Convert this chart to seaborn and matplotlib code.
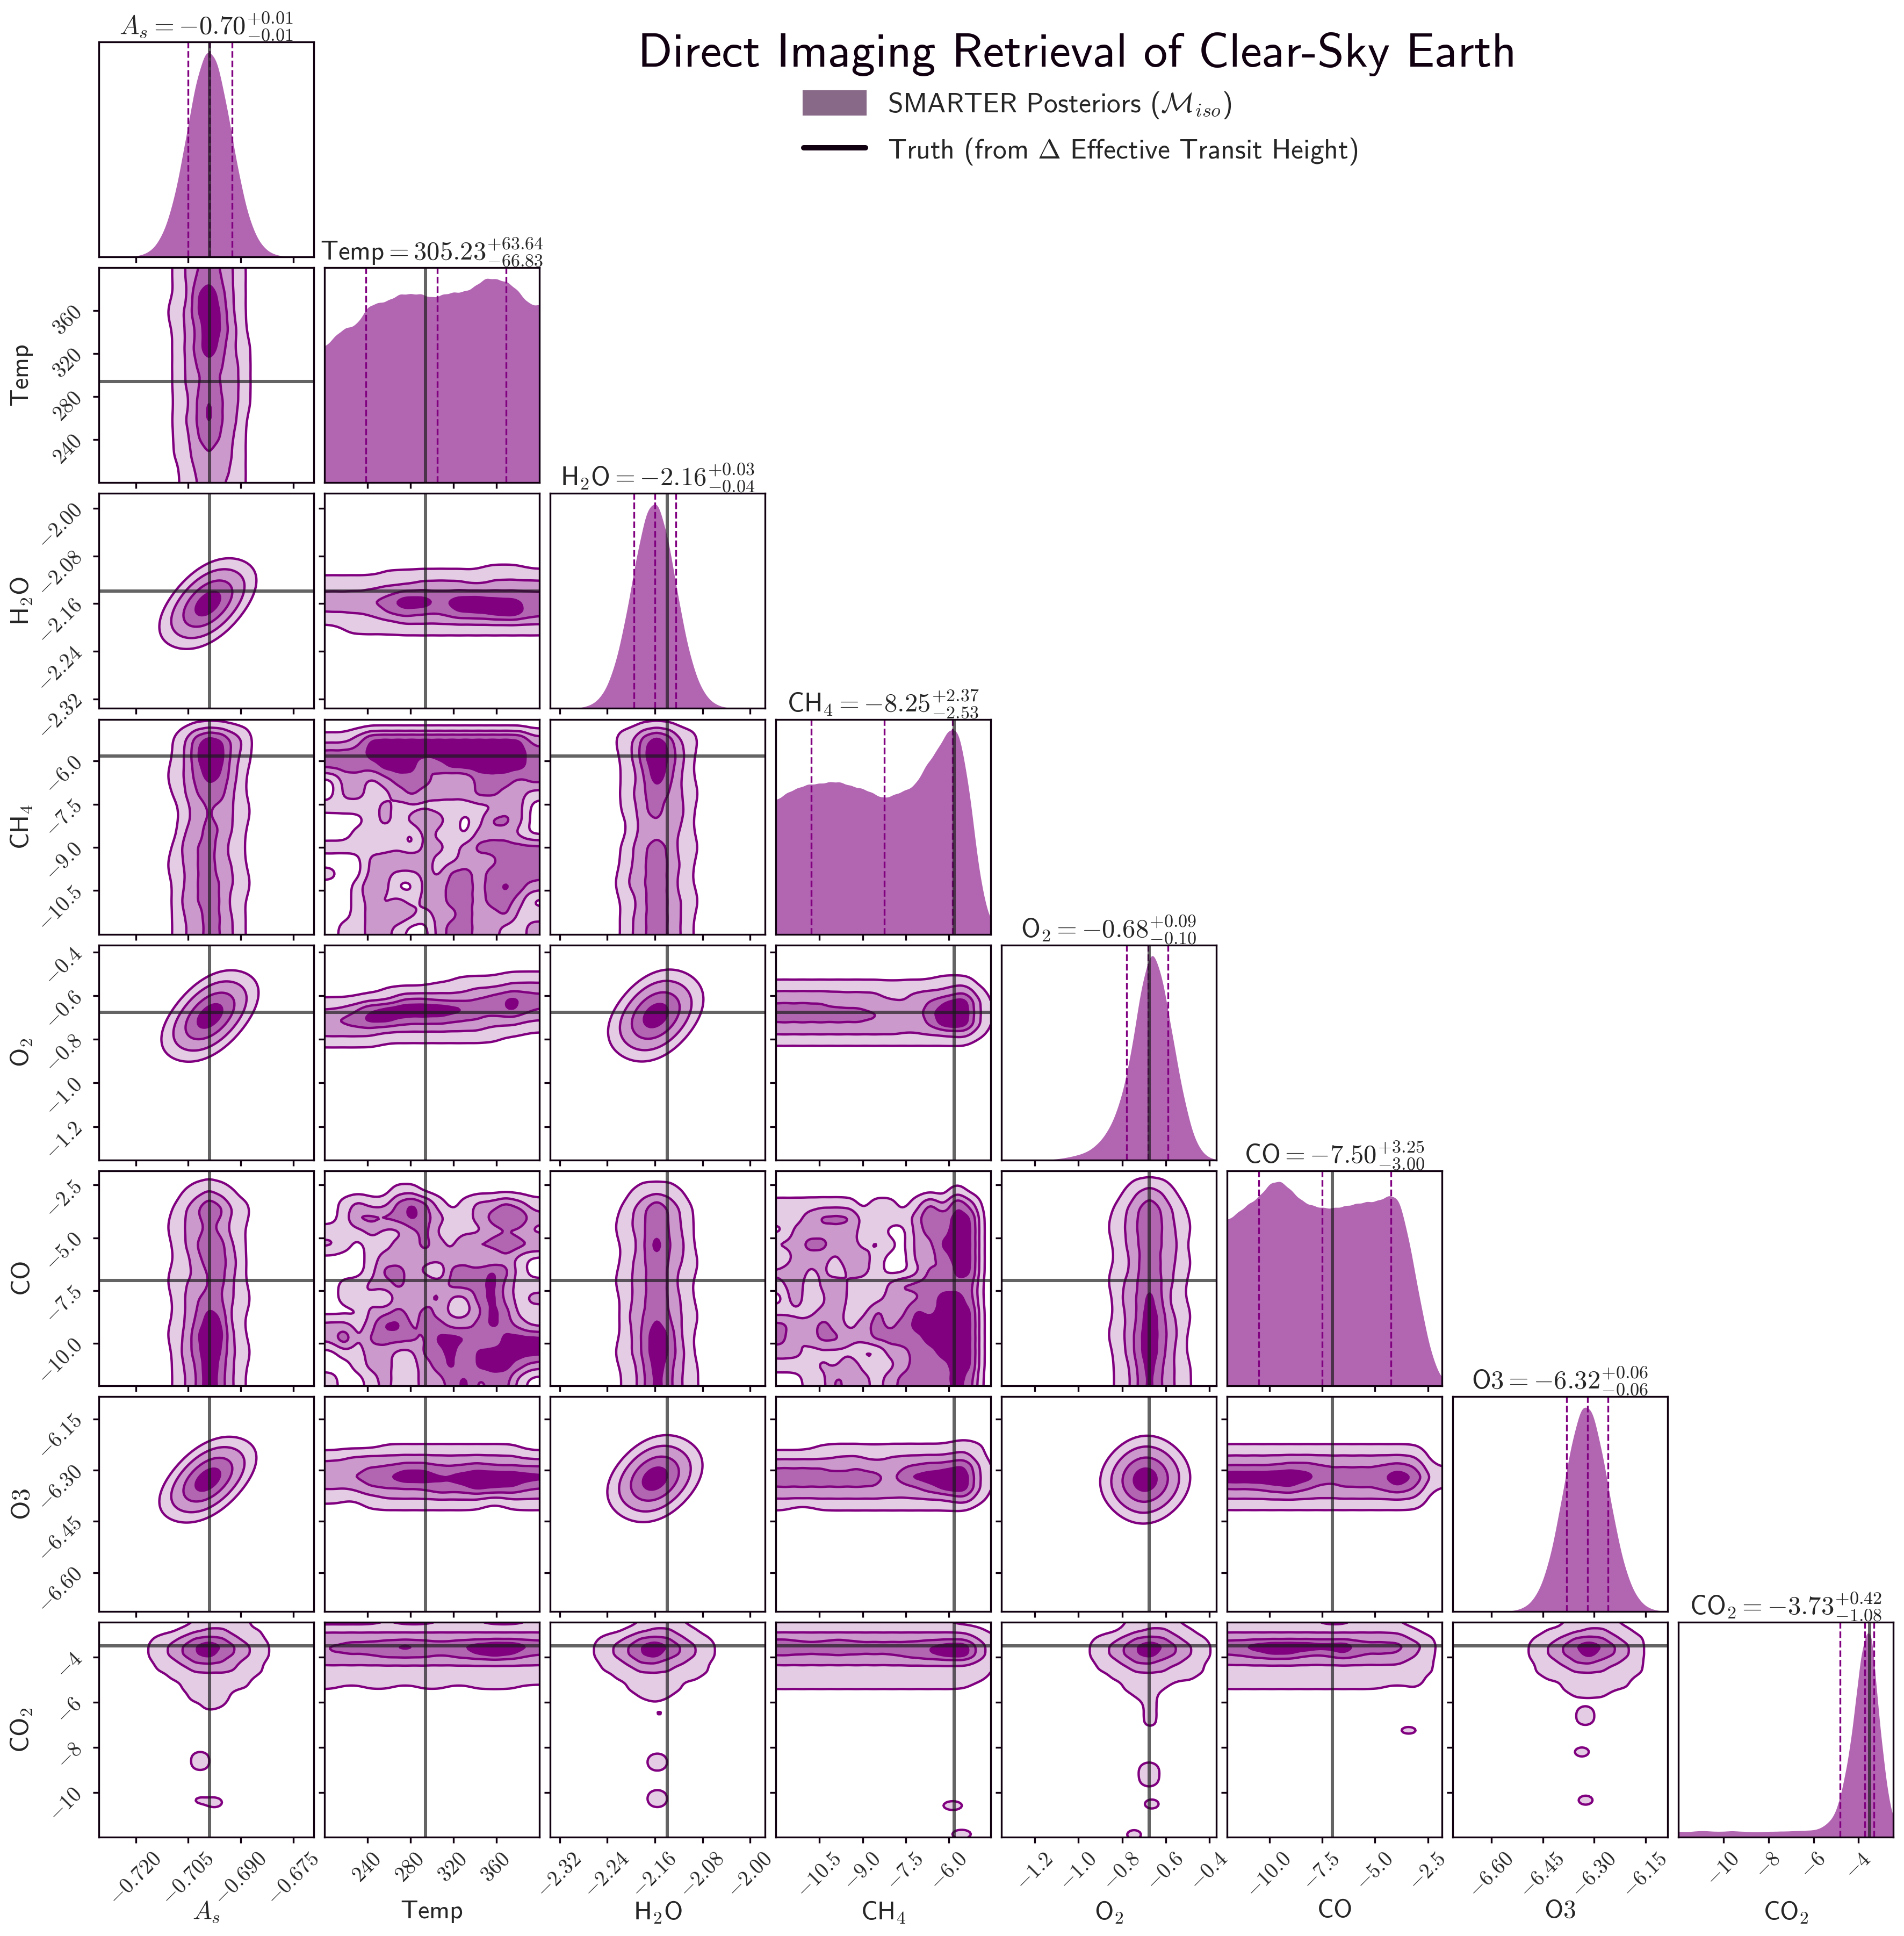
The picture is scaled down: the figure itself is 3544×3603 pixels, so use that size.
import numpy as np
import seaborn as sns
import matplotlib
matplotlib.use("Agg")
import matplotlib.pyplot as plt
from matplotlib.lines import Line2D
from matplotlib.patches import Patch

sns.set_theme(style="ticks")
plt.rcParams["font.family"] = ["cmss10", "DejaVu Sans"]
plt.rcParams["mathtext.fontset"] = "cm"
plt.rcParams["axes.unicode_minus"] = False
plt.rcParams["axes.formatter.use_mathtext"] = True

# parameters
names = [r"$A_s$", r"$\mathsf{Temp}$", r"$\mathsf{H_2O}$", r"$\mathsf{CH}_4$", r"$\mathsf{O}_2$",
         r"$\mathsf{CO}$", r"$\mathsf{O3}$", r"$\mathsf{CO}_2$"]
titles = [r"$A_s=-0.70^{+0.01}_{-0.01}$", r"$\mathsf{Temp}=305.23^{+63.64}_{-66.83}$",
          r"$\mathsf{H}_2\mathsf{O}=-2.16^{+0.03}_{-0.04}$", r"$\mathsf{CH}_4=-8.25^{+2.37}_{-2.53}$",
          r"$\mathsf{O}_2=-0.68^{+0.09}_{-0.10}$", r"$\mathsf{CO}=-7.50^{+3.25}_{-3.00}$",
          r"$\mathsf{O3}=-6.32^{+0.06}_{-0.06}$", r"$\mathsf{CO}_2=-3.73^{+0.42}_{-1.08}$"]
limits = [(-0.7305, -0.6692), (200, 400), (-2.336, -1.975), (-12.02, -4.55),
          (-1.353, -0.368), (-12.0, -1.83), (-6.714, -6.085), (-12.0, -2.46)]
# O3 has no truth line in the reference
truths = [-0.699, 294, -2.139, -5.82, -0.677, -7.02, None, -3.5]
quantiles = [(-0.705, -0.699, -0.6925), (238.4, 305.23, 368.87), (-2.195, -2.16, -2.125), (-10.78, -8.25, -5.88),
             (-0.78, -0.68, -0.59), (-10.5, -7.5, -4.25), (-6.38, -6.32, -6.26), (-4.81, -3.73, -3.31)]
ticks = [[-0.72, -0.705, -0.69, -0.675], [240, 280, 320, 360], [-2.32, -2.24, -2.16, -2.08, -2.0],
         [-10.5, -9, -7.5, -6], [-1.2, -1.0, -0.8, -0.6, -0.4], [-10, -7.5, -5, -2.5],
         [-6.6, -6.45, -6.3, -6.15], [-10, -8, -6, -4]]
tick_labels = [["-0.720", "-0.705", "-0.690", "-0.675"], ["240", "280", "320", "360"],
               ["-2.32", "-2.24", "-2.16", "-2.08", "-2.00"], ["-10.5", "-9.0", "-7.5", "-6.0"],
               ["-1.2", "-1.0", "-0.8", "-0.6", "-0.4"], ["-10.0", "-7.5", "-5.0", "-2.5"],
               ["-6.60", "-6.45", "-6.30", "-6.15"], ["-10", "-8", "-6", "-4"]]

# marginal heights, percent of panel height, evenly spaced across each panel
as_hist = [0, 0, 0, 0.1, 0.7, 3, 10, 25, 50, 78, 94, 89, 65, 37, 16, 5.6, 1.5, 0.3, 0, 0, 0]
temp_hist = [62, 68, 72, 72, 82, 83, 84, 87.5, 87, 87.5, 85, 87, 88, 88, 90.5, 95, 94, 93, 89, 82, 82]
h2o_hist = [0, 0, 0, 0.4, 1.8, 6.4, 18, 39, 67, 90, 94, 76, 47, 23, 9, 2.7, 0.6, 0.1, 0, 0, 0]
ch4_hist = [61, 65, 67, 69, 69, 70, 70, 68, 67, 65, 62, 64, 66, 68, 78, 84, 94, 96, 68, 24, 4]
o2_hist = [0, 0, 0, 0, 0.1, 0.3, 1, 2, 3.5, 7, 13, 24, 44, 76, 95, 80, 52, 26, 8, 1.5, 0]
co_hist = [76, 80, 84, 87, 94, 95, 90, 85, 83, 82, 82, 83, 84, 85, 85, 88, 88, 66, 38, 14, 2]
o3_hist = [0, 0, 0, 0, 0, 0.1, 0.6, 2.5, 8.4, 22, 46, 74, 93, 91, 69, 41, 19, 7, 1.9, 0.4, 0.1]
co2_hist = [2.7, 2.6, 2.6, 2.8, 3, 3, 2.8, 2.7, 2.7, 2.8, 3, 2.8, 2.7, 2.6, 2.5, 2.5, 2.6, 2.7, 2.7, 2.8, 2.8,
            2.9, 3, 3.1, 3.2, 3.3, 3.8, 5, 7, 10, 17, 28, 42, 62, 84, 94, 95, 64, 40, 20, 8]

# round blobs: a few points
h2o_as_x = [-0.6994, -0.69363, -0.70517, -0.6994, -0.6994]
h2o_as_y = [-2.160, -2.1438, -2.1762, -2.1319, -2.1881]
o2_as_x = [-0.6988, -0.69303, -0.70457, -0.6988, -0.6988]
o2_as_y = [-0.693, -0.6487, -0.7373, -0.6157, -0.7703]
o3_as_x = [-0.6994, -0.69363, -0.70517, -0.6994, -0.6994]
o3_as_y = [-6.328, -6.3013, -6.3547, -6.2817, -6.3743]
o2_h2o_x = [-2.1586, -2.1253, -2.1919, -2.1586, -2.1586]
o2_h2o_y = [-0.691, -0.66, -0.722, -0.608, -0.774]
o3_h2o_x = [-2.160, -2.1267, -2.1933, -2.160, -2.160]
o3_h2o_y = [-6.325, -6.3089, -6.3411, -6.274, -6.376]
o3_o2_x = [-0.694, -0.6081, -0.7799, -0.694, -0.694]
o3_o2_y = [-6.328, -6.3253, -6.3307, -6.2745, -6.3815]

# everything else: density painted on a coarse lattice (contours sit at 1, 3, 5, 7)
as_nodes = [-0.7126, -0.6856]
h2o_nodes = [-2.2365, -2.0775]
o2_nodes = [-0.8905, -0.4575]
temp_nodes = [208.35, 391.65]
ch4_nodes = [-11.708, -4.236]
co_nodes = [-11.576, -1.416]
co_short_nodes = [-11.576, -2.264]
temp_rows = [391.65, 208.35]
ch4_rows = [-4.6434, -11.486]
co_rows = [-1.957, -11.261]
co2_rows = [-2.3646, -5.799]
drop_rows = [-2.3646, -6.5622]
o3_rows = [-6.1949, -6.4461]

temp_as = [[0, 1, 3, 5, 6, 5, 3, 1, 0], [0, 1, 2, 7, 9, 6, 3, 1, 0], [0, 2, 3, 7, 9, 7, 3, 1, 0],
           [0, 1, 3, 5, 9, 7, 4, 1, 0], [0, 1, 3, 6, 9, 6, 3, 2, 0], [0, 1, 3, 5, 6, 5, 4, 2, 0],
           [0, 1, 3, 5, 5, 5, 4, 2, 0], [0, 1, 2, 5, 8, 5, 4, 2, 0], [0, 1, 3, 5, 8, 5, 4, 1, 0],
           [0, 1, 2, 5, 6, 5, 3, 1, 0], [0, 1, 2, 4, 5, 4, 3, 1, 0], [0, 0, 2, 3, 4, 3, 3, 1, 0]]
ch4_as = [[0, 0, 0, 0, 0, 0, 0, 0, 0], [0, 1, 3, 7, 9, 8, 5, 3, 0], [0, 1, 3, 7, 9, 8, 4, 2, 0],
          [0, 2, 3, 6, 8, 7, 4, 1, 0], [0, 1, 3, 5, 6, 6, 3, 1, 0], [0, 0, 2, 4, 5, 4, 3, 2, 0],
          [0, 0, 3, 4, 6, 5, 3, 1, 0], [0, 1, 4, 5, 6, 4, 2, 1, 0], [0, 2, 3, 5, 6, 4, 3, 1, 0],
          [0, 1, 3, 5, 6, 5, 3, 2, 0], [0, 1, 4, 5, 6, 5, 2, 1, 0], [0, 1, 3, 4, 6, 5, 3, 1, 0]]
ch4_h2o = [[0, 0, 0, 0, 0, 0, 0, 0, 0], [0, 2, 3, 7, 9, 7, 3, 2, 0], [0, 1, 3, 7, 9, 7, 4, 1, 0],
           [0, 1, 2, 5, 9, 6, 3, 1, 0], [0, 1, 3, 5, 6, 5, 3, 2, 0], [0, 1, 2, 5, 6, 4, 4, 1, 0],
           [0, 0, 2, 4, 4, 4, 3, 1, 0], [0, 1, 3, 5, 6, 5, 2, 2, 0], [0, 1, 3, 5, 6, 5, 3, 1, 0],
           [0, 2, 4, 5, 6, 5, 2, 1, 0], [0, 1, 2, 5, 6, 5, 3, 2, 0], [0, 1, 3, 5, 6, 5, 3, 1, 0]]
co_as = [[0, 0, 0, 0, 0, 0, 0, 0, 0], [0, 0, 1, 2, 3, 2, 1, 0, 0], [0, 1, 3, 5, 8, 6, 3, 2, 0],
         [0, 2, 3, 4, 5, 4, 2, 1, 0], [0, 1, 3, 5, 8, 6, 3, 1, 0], [0, 1, 2, 4, 6, 6, 4, 1, 0],
         [0, 2, 3, 3, 5, 6, 3, 1, 0], [0, 1, 3, 5, 6, 5, 3, 2, 0], [0, 1, 3, 5, 8, 7, 2, 1, 0],
         [0, 2, 3, 7, 9, 8, 3, 1, 0], [0, 1, 4, 6, 9, 7, 3, 2, 0], [0, 1, 3, 5, 9, 6, 3, 1, 0]]
co_h2o = [[0, 0, 0, 0, 0, 0, 0, 0, 0], [0, 0, 1, 2, 2, 2, 1, 0, 0], [0, 1, 3, 5, 8, 5, 3, 1, 0],
          [0, 2, 3, 5, 6, 5, 3, 1, 0], [0, 1, 2, 5, 9, 5, 4, 1, 0], [0, 1, 3, 5, 6, 5, 3, 2, 0],
          [0, 2, 3, 5, 6, 5, 2, 1, 0], [0, 1, 3, 5, 6, 5, 3, 1, 0], [0, 1, 4, 5, 7, 5, 3, 2, 0],
          [0, 1, 3, 6, 9, 7, 3, 1, 0], [0, 2, 3, 6, 9, 7, 4, 1, 0], [0, 1, 2, 5, 8, 6, 3, 2, 0]]
co_o2 = [[0, 0, 0, 0, 0, 0, 0, 0, 0], [0, 0, 1, 3, 4, 3, 1, 0, 0], [0, 1, 3, 5, 7, 5, 3, 1, 0],
         [0, 2, 3, 5, 8, 5, 3, 2, 0], [0, 1, 3, 5, 6, 5, 4, 1, 0], [0, 1, 2, 5, 6, 5, 3, 2, 0],
         [0, 2, 3, 5, 7, 5, 3, 1, 0], [0, 1, 4, 5, 8, 5, 2, 1, 0], [0, 1, 3, 5, 9, 6, 3, 2, 0],
         [0, 2, 3, 6, 9, 6, 4, 1, 0], [0, 1, 3, 6, 9, 6, 3, 1, 0], [0, 1, 2, 5, 8, 5, 3, 2, 0]]

h2o_temp = [[0, 0, 0, 0, 0, 0, 0, 0, 0, 0, 0, 0], [0, 0, 0, 1, 1, 1, 1, 1, 1, 2, 2, 1],
            [2, 2, 2, 2, 2, 3, 3, 3, 2, 3, 3, 3], [3, 3, 3, 4, 5, 5, 5, 5, 5, 5, 5, 5],
            [4, 4, 5, 6, 9, 9, 6, 9, 9, 8, 8, 6], [3, 3, 3, 5, 6, 5, 5, 7, 7, 8, 9, 6],
            [1, 2, 2, 2, 3, 3, 3, 3, 3, 3, 3, 3], [0, 1, 1, 1, 1, 1, 1, 1, 1, 1, 1, 1],
            [0, 0, 0, 0, 0, 0, 0, 0, 0, 0, 0, 0]]
o2_temp = [[0, 0, 0, 0, 0, 0, 0, 0, 0, 0, 0, 0], [0, 0, 0, 0, 0, 0, 0, 1, 1, 1, 2, 2],
           [0, 0, 0, 1, 1, 1, 2, 2, 3, 3, 4, 4], [1, 1, 2, 2, 5, 5, 4, 4, 5, 6, 8, 6],
           [3, 4, 7, 8, 9, 9, 9, 8, 6, 6, 8, 5], [5, 6, 8, 8, 6, 6, 6, 5, 5, 4, 4, 3],
           [4, 4, 4, 3, 3, 3, 3, 3, 3, 2, 2, 1], [2, 2, 2, 1, 1, 1, 1, 1, 1, 1, 0, 0],
           [0, 0, 0, 0, 0, 0, 0, 0, 0, 0, 0, 0]]
o2_ch4 = [[0, 0, 0, 0, 0, 0, 0, 0, 0, 0, 0, 0, 0], [1, 1, 1, 1, 1, 1, 1, 1, 1, 2, 2, 0, 0],
          [3, 3, 3, 3, 3, 3, 2, 3, 3, 3, 5, 1, 0], [5, 5, 5, 4, 4, 4, 3, 3, 5, 7, 9, 2, 0],
          [6, 6, 6, 6, 6, 5, 5, 3, 6, 9, 9, 2, 0], [5, 5, 5, 5, 5, 5, 5, 3, 5, 9, 9, 2, 0],
          [3, 3, 3, 3, 3, 3, 3, 3, 3, 3, 4, 1, 0], [1, 1, 1, 1, 1, 1, 1, 1, 1, 1, 1, 0, 0],
          [0, 0, 0, 0, 0, 0, 0, 0, 0, 0, 0, 0, 0]]
o3_temp = [[0, 0, 0, 0, 0, 0, 0, 0, 0, 0, 0, 0], [0, 0, 0, 1, 1, 1, 1, 1, 1, 1, 1, 0],
           [2, 3, 3, 3, 3, 3, 3, 3, 3, 3, 3, 2], [4, 4, 5, 5, 6, 6, 5, 5, 6, 5, 5, 5],
           [5, 5, 6, 7, 9, 9, 7, 8, 9, 9, 9, 8], [3, 3, 5, 5, 5, 5, 7, 6, 8, 7, 7, 5],
           [2, 1, 2, 3, 3, 3, 3, 3, 3, 2, 3, 3], [0, 0, 1, 1, 1, 1, 1, 1, 1, 0, 1, 1],
           [0, 0, 0, 0, 0, 0, 0, 0, 0, 0, 0, 0]]
o3_ch4 = [[0, 0, 0, 0, 0, 0, 0, 0, 0, 0, 0, 0, 0], [0, 0, 1, 1, 1, 1, 1, 1, 1, 1, 2, 1, 0],
          [2, 2, 2, 3, 3, 2, 3, 3, 3, 3, 4, 1, 0], [5, 5, 5, 4, 5, 4, 4, 5, 6, 6, 8, 2, 0],
          [6, 6, 6, 6, 6, 6, 4, 8, 8, 9, 9, 2, 0], [5, 5, 5, 5, 5, 5, 4, 4, 6, 8, 9, 2, 0],
          [3, 3, 3, 3, 3, 3, 3, 3, 3, 3, 5, 1, 0], [1, 0, 1, 1, 1, 1, 1, 1, 1, 1, 1, 0, 0],
          [0, 0, 0, 0, 0, 0, 0, 0, 0, 0, 0, 0, 0]]
o3_co = [[0, 0, 0, 0, 0, 0, 0, 0, 0, 0, 0, 0], [1, 1, 1, 1, 1, 1, 1, 1, 1, 1, 1, 0],
         [3, 3, 3, 3, 3, 3, 3, 3, 3, 3, 3, 0], [5, 5, 5, 6, 6, 5, 5, 5, 5, 6, 5, 1],
         [9, 9, 9, 9, 8, 6, 6, 6, 6, 9, 7, 2], [5, 5, 6, 7, 5, 4, 5, 5, 5, 7, 5, 1],
         [3, 3, 3, 3, 3, 3, 3, 3, 3, 3, 3, 0], [1, 1, 1, 1, 1, 1, 1, 1, 1, 1, 1, 0],
         [0, 0, 0, 0, 0, 0, 0, 0, 0, 0, 0, 0]]

co2_temp = [[0, 0, 0, 1, 0, 0, 1, 1, 1, 0, 0, 1], [2, 2, 2, 2, 2, 2, 2, 2, 2, 2, 2, 2],
            [4, 4, 4, 4, 4, 4, 4, 4, 4, 4, 4, 4], [5, 6, 6, 7, 8, 7, 6, 7, 8, 9, 9, 7],
            [5, 5, 5, 6, 6, 6, 5, 6, 7, 8, 7, 5], [3, 3, 3, 3, 3, 3, 3, 3, 3, 3, 3, 3],
            [2, 2, 2, 2, 2, 2, 2, 2, 2, 2, 2, 2], [2, 2, 2, 2, 2, 2, 2, 2, 2, 2, 2, 2],
            [1, 0, 1, 1, 0, 1, 1, 0, 1, 1, 1, 0], [0, 0, 0, 0, 0, 0, 0, 0, 0, 0, 0, 0]]
co2_ch4 = [[1, 1, 1, 1, 1, 1, 1, 1, 1, 1, 0, 0, 0], [2, 2, 2, 2, 2, 2, 2, 2, 2, 2, 2, 1, 0],
           [4, 4, 4, 4, 4, 4, 4, 4, 4, 4, 4, 2, 1], [8, 6, 6, 8, 6, 6, 6, 6, 7, 8, 9, 3, 1],
           [5, 5, 5, 5, 5, 5, 5, 6, 7, 8, 9, 3, 1], [3, 3, 3, 3, 3, 3, 3, 3, 3, 3, 3, 2, 1],
           [2, 2, 2, 2, 2, 2, 2, 2, 2, 2, 2, 2, 0], [2, 2, 2, 2, 2, 2, 2, 2, 2, 2, 2, 1, 0],
           [1, 1, 1, 1, 1, 1, 1, 1, 1, 1, 1, 0, 0], [0, 0, 0, 0, 0, 0, 0, 0, 0, 0, 0, 0, 0]]
co2_co = [[2, 2, 2, 2, 2, 0, 0, 2, 2, 1, 0, 0, 0], [2, 2, 2, 2, 2, 2, 2, 2, 2, 2, 1, 0, 0],
          [4, 4, 4, 4, 4, 4, 4, 4, 4, 4, 2, 1, 0], [7, 8, 9, 9, 9, 8, 9, 6, 6, 6, 4, 1, 0],
          [5, 6, 7, 7, 5, 5, 7, 5, 5, 5, 3, 1, 0], [3, 3, 3, 3, 3, 3, 3, 3, 3, 3, 2, 1, 0],
          [2, 2, 2, 2, 2, 2, 2, 2, 2, 2, 2, 1, 0], [2, 2, 2, 2, 2, 2, 2, 2, 2, 2, 2, 0, 0],
          [1, 1, 1, 1, 1, 1, 1, 1, 1, 0, 1, 0, 0], [0, 0, 0, 0, 0, 0, 0, 0, 0, 0, 0, 0, 0]]

co2_as = [[0, 0, 0, 0, 1, 2, 2, 2, 1, 0, 0], [0, 0, 0, 1, 2, 3, 3, 2, 1, 1, 0], [0, 1, 2, 3, 5, 5, 5, 3, 2, 1, 0],
          [0, 2, 3, 5, 7, 9, 7, 5, 3, 2, 0], [0, 2, 3, 5, 7, 8, 6, 5, 3, 2, 0], [0, 1, 2, 3, 5, 5, 5, 3, 2, 1, 0],
          [0, 1, 1, 2, 3, 3, 3, 3, 2, 1, 0], [0, 0, 1, 1, 2, 2, 2, 2, 1, 0, 0], [0, 0, 0, 1, 2, 2, 2, 1, 1, 0, 0],
          [0, 0, 0, 0, 2, 2, 2, 0, 0, 0, 0], [0, 0, 0, 0, 0, 2, 1, 0, 0, 0, 0], [0, 0, 0, 0, 0, 0, 0, 0, 0, 0, 0]]
co2_h2o = [[0, 0, 0, 0, 1, 2, 2, 1, 0, 0, 0], [0, 0, 0, 1, 2, 3, 3, 2, 1, 0, 0], [0, 1, 2, 3, 5, 5, 5, 3, 2, 1, 0],
           [0, 2, 3, 5, 7, 9, 7, 5, 3, 2, 0], [0, 2, 3, 5, 7, 8, 6, 5, 3, 2, 0], [0, 1, 2, 3, 5, 5, 4, 3, 2, 1, 0],
           [0, 1, 1, 2, 3, 3, 3, 2, 2, 1, 0], [0, 0, 1, 1, 2, 2, 2, 1, 1, 0, 0], [0, 0, 0, 1, 2, 2, 2, 1, 0, 0, 0],
           [0, 0, 0, 0, 1, 2, 1, 0, 0, 0, 0], [0, 0, 0, 0, 0, 0, 0, 0, 0, 0, 0], [0, 0, 0, 0, 0, 0, 0, 0, 0, 0, 0]]
co2_o2 = [[0, 0, 0, 1, 1, 2, 2, 1, 0, 0, 0], [0, 0, 0, 1, 2, 3, 3, 2, 1, 0, 0], [0, 1, 2, 3, 5, 5, 5, 3, 2, 1, 0],
          [0, 2, 3, 5, 7, 9, 7, 5, 3, 2, 0], [0, 2, 3, 5, 7, 8, 6, 5, 3, 2, 0], [0, 1, 2, 3, 5, 5, 4, 3, 2, 1, 0],
          [0, 1, 1, 2, 3, 3, 3, 2, 2, 1, 0], [0, 0, 1, 1, 2, 2, 2, 1, 1, 0, 0], [0, 0, 0, 1, 2, 2, 1, 0, 0, 0, 0],
          [0, 0, 0, 0, 1, 2, 0, 0, 0, 0, 0], [0, 0, 0, 0, 0, 2, 0, 0, 0, 0, 0], [0, 0, 0, 0, 0, 2, 0, 0, 0, 0, 0],
          [0, 0, 0, 0, 0, 2, 0, 0, 0, 0, 0], [0, 0, 0, 0, 0, 0, 0, 0, 0, 0, 0]]
co2_o3 = [[0, 0, 0, 1, 1, 2, 2, 1, 0, 0, 0], [0, 0, 1, 1, 2, 3, 3, 2, 1, 0, 0], [0, 1, 2, 3, 5, 5, 5, 3, 2, 1, 0],
          [0, 2, 3, 5, 7, 9, 7, 5, 3, 1, 0], [0, 2, 3, 5, 6, 8, 6, 5, 3, 1, 0], [0, 1, 2, 3, 5, 5, 4, 3, 2, 1, 0],
          [0, 1, 2, 2, 3, 3, 3, 2, 2, 1, 0], [0, 0, 1, 1, 2, 2, 2, 2, 1, 0, 0], [0, 0, 0, 1, 2, 2, 2, 1, 1, 0, 0],
          [0, 0, 0, 0, 1, 1, 1, 0, 0, 0, 0], [0, 0, 0, 0, 0, 0, 0, 0, 0, 0, 0], [0, 0, 0, 0, 0, 0, 0, 0, 0, 0, 0]]

# small islands under the CO2 teardrops (x, y, height)
co2_as_extra = ([-0.7016, -0.7016, -0.6974, -0.7020], [-8.42, -8.80, -10.45, -10.35], [3, 3, 3, 2])
co2_h2o_extra = ([-2.1527, -2.156, -2.156, -2.156, -2.156], [-6.49, -8.50, -8.82, -10.12, -10.44], [2, 3, 3, 3, 3])
co2_ch4_extra = ([-5.87, -5.56], [-10.59, -11.86], [3, 3])
co2_o2_extra = ([-0.6765, -0.6765, -0.6765, -0.664, -0.745], [-8.9, -9.2, -9.52, -10.52, -11.88], [3, 3, 3, 3, 3])
co2_co_extra = ([-3.41], [-7.25], [2.5])
co2_o3_extra = ([-6.326, -6.326, -6.336, -6.325], [-6.42, -6.80, -8.21, -10.35], [3, 3, 3, 3])

ch4_temp = [[0, 0, 0, 0, 0, 0, 0, 0, 0, 0, 0, 0, 0, 0, 0, 0],
            [2, 2, 4, 8, 8, 8, 8, 8, 8, 8, 8, 8, 8, 8, 8, 4],
            [6, 6, 6, 8, 8, 8, 8, 8, 8, 8, 8, 8, 8, 8, 8, 6],
            [6, 6, 6, 6, 8, 8, 8, 4, 6, 8, 8, 8, 8, 8, 8, 6],
            [0, 4, 4, 2, 4, 6, 6, 6, 4, 2, 2, 6, 6, 6, 4, 6],
            [0, 4, 4, 2, 2, 4, 6, 4, 4, 4, 4, 6, 6, 4, 4, 2],
            [2, 2, 2, 2, 4, 2, 2, 2, 2, 2, 2, 2, 2, 4, 4, 0],
            [0, 0, 0, 2, 4, 2, 4, 6, 4, 2, 0, 2, 6, 6, 4, 0],
            [0, 0, 2, 2, 2, 2, 0, 4, 2, 2, 0, 4, 4, 4, 2, 0],
            [2, 2, 2, 2, 2, 2, 0, 4, 4, 2, 4, 6, 6, 6, 6, 6],
            [0, 0, 0, 4, 4, 6, 6, 4, 2, 2, 4, 4, 4, 6, 6, 6],
            [2, 0, 0, 4, 4, 2, 2, 4, 2, 6, 6, 4, 6, 6, 6, 6],
            [0, 0, 2, 6, 4, 0, 0, 4, 4, 6, 6, 4, 6, 8, 6, 4],
            [0, 0, 2, 4, 2, 4, 2, 4, 4, 6, 6, 4, 6, 6, 4, 0],
            [0, 0, 2, 4, 4, 6, 4, 2, 4, 4, 6, 4, 4, 6, 2, 2],
            [0, 2, 2, 4, 4, 2, 0, 0, 4, 6, 6, 4, 4, 2, 2, 4]]
co_temp = [[0, 0, 0, 0, 0, 0, 0, 0, 0, 0, 0, 0, 0, 0, 0, 0],
           [0, 0, 0, 0, 0, 2, 2, 0, 0, 0, 0, 0, 0, 0, 0, 0],
           [0, 2, 4, 2, 2, 6, 8, 6, 2, 0, 2, 4, 4, 6, 4, 2],
           [0, 2, 6, 6, 6, 6, 8, 6, 4, 2, 2, 4, 6, 8, 8, 4],
           [2, 2, 2, 4, 2, 2, 4, 6, 2, 2, 2, 2, 4, 4, 4, 2],
           [4, 2, 0, 2, 2, 4, 4, 6, 4, 2, 6, 6, 6, 8, 6, 6],
           [0, 0, 0, 2, 4, 4, 4, 4, 4, 4, 4, 2, 2, 4, 2, 0],
           [0, 0, 0, 2, 6, 6, 4, 2, 0, 6, 6, 6, 8, 6, 2, 0],
           [0, 2, 2, 4, 4, 6, 4, 6, 4, 6, 6, 6, 8, 4, 2, 2],
           [0, 2, 4, 2, 0, 4, 2, 4, 6, 2, 2, 6, 8, 4, 2, 4],
           [0, 0, 0, 4, 4, 6, 4, 6, 4, 2, 2, 4, 8, 6, 2, 2],
           [4, 4, 2, 4, 8, 8, 4, 6, 6, 4, 4, 6, 8, 6, 4, 2],
           [4, 8, 2, 6, 6, 6, 6, 4, 8, 8, 8, 4, 4, 8, 8, 8],
           [0, 2, 2, 4, 4, 2, 2, 6, 6, 8, 4, 8, 8, 8, 8, 8],
           [0, 0, 2, 4, 4, 2, 2, 4, 6, 8, 4, 8, 8, 8, 6, 4],
           [2, 0, 0, 2, 4, 2, 2, 4, 4, 6, 8, 4, 6, 6, 2, 0]]
co_ch4 = [[0, 0, 0, 0, 0, 0, 0, 0, 0, 0, 0, 0, 0, 0, 0, 0],
          [0, 0, 0, 0, 0, 0, 0, 0, 0, 0, 0, 0, 0, 2, 0, 0],
          [2, 2, 2, 2, 2, 2, 0, 2, 2, 0, 2, 6, 2, 8, 4, 0],
          [2, 2, 4, 6, 6, 6, 2, 4, 2, 2, 4, 8, 6, 8, 8, 0],
          [0, 4, 4, 4, 4, 4, 2, 2, 0, 0, 4, 6, 6, 8, 8, 0],
          [4, 4, 6, 6, 4, 4, 2, 4, 2, 0, 4, 4, 8, 8, 8, 0],
          [0, 4, 4, 4, 2, 6, 4, 2, 0, 0, 4, 4, 6, 8, 8, 0],
          [4, 6, 2, 4, 0, 4, 4, 2, 0, 0, 2, 6, 4, 8, 8, 0],
          [2, 6, 0, 4, 6, 2, 2, 0, 4, 6, 6, 6, 6, 6, 6, 0],
          [0, 6, 0, 2, 6, 2, 0, 2, 4, 4, 4, 6, 8, 8, 6, 0],
          [2, 2, 2, 4, 4, 2, 2, 6, 4, 4, 8, 6, 8, 8, 8, 0],
          [6, 4, 4, 6, 4, 2, 4, 6, 4, 6, 8, 8, 8, 8, 8, 0],
          [6, 2, 4, 6, 6, 4, 4, 6, 6, 6, 6, 8, 8, 8, 8, 0],
          [4, 4, 2, 2, 2, 2, 0, 0, 4, 4, 6, 6, 8, 8, 8, 0],
          [2, 2, 2, 4, 2, 6, 2, 2, 2, 4, 6, 6, 6, 8, 8, 0],
          [0, 0, 2, 2, 6, 4, 4, 2, 4, 6, 6, 6, 6, 8, 6, 0]]
grid_rows_ch4 = [-4.7835, -11.789]
grid_rows_co = [-2.1475, -11.6725]
grid_nodes_temp = [206.25, 393.75]
grid_nodes_ch4 = [-11.7865, -4.7815]

COLS = ["#e5cce5", "#cc99cc", "#b266b2", "#800080"]
THRESH = [1.0, 3.0, 5.0, 7.0]
LINE_W = 1.05
W, H = 3544.0, 3603.0


def draw_blob(ax, x, y):
    for fill, lev, kw in [(True, [0.135, 0.325, 0.607, 0.882, 1.0], dict(colors=COLS)),
                          (False, [0.135, 0.325, 0.607, 0.882], dict(colors=["purple"], linewidths=LINE_W))]:
        sns.kdeplot(x=x, y=y, bw_method=1.42, levels=lev, fill=fill, gridsize=120, color="purple", ax=ax, **kw)


def draw_lattice(ax, xr, yr, w, xlim, ylim, extra=None):
    w = np.array(w, float)
    x = np.linspace(xr[0], xr[1], w.shape[1])
    y = np.linspace(yr[0], yr[1], w.shape[0])
    dx, dy = x[1] - x[0], y[1] - y[0]
    # repeat the outer nodes so the density does not sag at the panel edge
    w = np.pad(w, 3, mode="edge")
    x = np.r_[x[0] - 3 * dx, x[0] - 2 * dx, x[0] - dx, x, x[-1] + dx, x[-1] + 2 * dx, x[-1] + 3 * dx]
    y = np.r_[y[0] - 3 * dy, y[0] - 2 * dy, y[0] - dy, y, y[-1] + dy, y[-1] + 2 * dy, y[-1] + 3 * dy]
    xx, yy = np.meshgrid(x, y)
    keep = w > 0
    px, py, pw = xx[keep], yy[keep], w[keep]
    if extra is not None:
        px = np.r_[px, extra[0]]
        py = np.r_[py, extra[1]]
        pw = np.r_[pw, extra[2]]
    sx, sy = 0.55 * abs(dx), 0.55 * abs(dy)

    # where the lattice values 1, 3, 5, 7 land as iso-proportions on the panel
    gx = np.linspace(xlim[0], xlim[1], 120)
    gy = np.linspace(ylim[0], ylim[1], 120)
    kx = np.exp(-0.5 * ((gx[:, None] - px[None, :]) / sx) ** 2)
    ky = np.exp(-0.5 * ((gy[:, None] - py[None, :]) / sy) ** 2)
    dens = (ky * pw) @ kx.T / (2 * np.pi * 0.55 ** 2)
    lev = [dens[dens < t].sum() / dens.sum() for t in THRESH if dens.max() > t]
    cols = COLS[:len(lev)]

    # far-off anchors with tiny weight set the kernel shape to (sx, sy), nothing is drawn from them
    factor = 0.02
    mx, my = np.average(px, weights=pw), np.average(py, weights=pw)
    far_x, far_y = 50 * sx / factor, 50 * sy / factor
    eps = pw.sum() / 5000.0
    kde_x = np.r_[px, mx - far_x, mx + far_x, mx, mx]
    kde_y = np.r_[py, my, my, my - far_y, my + far_y]
    kde_w = np.r_[pw, eps, eps, eps, eps]
    clip = (tuple(xlim), tuple(ylim))
    sns.kdeplot(x=kde_x, y=kde_y, weights=kde_w, bw_method=factor, levels=lev + [1.0], fill=True, color="purple",
                colors=cols, clip=clip, gridsize=130, ax=ax)
    sns.kdeplot(x=kde_x, y=kde_y, weights=kde_w, bw_method=factor, levels=lev, fill=False, color="purple",
                colors=["purple"], linewidths=LINE_W, clip=clip, gridsize=130, ax=ax)


def draw_marginal(ax, hist, lim):
    hist = np.array(hist, float)
    nodes = np.linspace(lim[0], lim[1], len(hist))
    step = nodes[1] - nodes[0]
    hist = np.pad(hist, 4, mode="edge")
    nodes = np.r_[nodes[0] - step * np.arange(4, 0, -1), nodes, nodes[-1] + step * np.arange(1, 5)]
    spread = np.sqrt(np.cov(nodes, aweights=hist))
    sns.kdeplot(x=nodes, weights=hist, bw_method=0.6 * step / spread, fill=True, color="purple", alpha=0.6,
                linewidth=0, clip=lim, gridsize=500, ax=ax)
    top = ax.collections[0].get_paths()[0].vertices[:, 1].max()
    ax.set_ylim(0, top / 0.95)


blobs = {(2, 0): (h2o_as_x, h2o_as_y), (4, 0): (o2_as_x, o2_as_y), (6, 0): (o3_as_x, o3_as_y),
         (4, 2): (o2_h2o_x, o2_h2o_y), (6, 2): (o3_h2o_x, o3_h2o_y), (6, 4): (o3_o2_x, o3_o2_y)}
lattices = {
    (1, 0): (as_nodes, temp_rows, temp_as, None),
    (3, 0): (as_nodes, ch4_rows, ch4_as, None),
    (3, 2): (h2o_nodes, ch4_rows, ch4_h2o, None),
    (5, 0): (as_nodes, co_rows, co_as, None),
    (5, 2): (h2o_nodes, co_rows, co_h2o, None),
    (5, 4): (o2_nodes, co_rows, co_o2, None),
    (2, 1): (temp_nodes, [-2.0852, -2.2296], h2o_temp, None),
    (4, 1): (temp_nodes, [-0.4664, -0.860], o2_temp, None),
    (4, 3): (ch4_nodes, [-0.4812, -0.8748], o2_ch4, None),
    (6, 1): (temp_nodes, o3_rows, o3_temp, None),
    (6, 3): (ch4_nodes, o3_rows, o3_ch4, None),
    (6, 5): (co_short_nodes, o3_rows, o3_co, None),
    (7, 1): (temp_nodes, co2_rows, co2_temp, None),
    (7, 3): (ch4_nodes, co2_rows, co2_ch4, co2_ch4_extra),
    (7, 5): (co_nodes, co2_rows, co2_co, co2_co_extra),
    (7, 0): ([-0.7183, -0.6800], drop_rows, co2_as, co2_as_extra),
    (7, 2): ([-2.2737, -2.0479], drop_rows, co2_h2o, co2_h2o_extra),
    (7, 4): ([-0.9791, -0.3641], [-2.3646, -7.3254], co2_o2, co2_o2_extra),
    (7, 6): ([-6.5115, -6.1190], drop_rows, co2_o3, co2_o3_extra),
    (3, 1): (grid_nodes_temp, grid_rows_ch4, ch4_temp, None),
    (5, 1): (grid_nodes_temp, grid_rows_co, co_temp, None),
    (5, 3): (grid_nodes_ch4, grid_rows_co, co_ch4, None),
}
hists = [as_hist, temp_hist, h2o_hist, ch4_hist, o2_hist, co_hist, o3_hist, co2_hist]

fig = plt.figure(figsize=(W / 300, H / 300), dpi=300)

for r in range(8):
    for c in range(r + 1):
        left = 184 + 420 * c
        top = 78 + 420.2 * r
        ax = fig.add_axes([left / W, 1 - (top + 400) / H, 400 / W, 400 / H])
        if r == c:
            draw_marginal(ax, hists[r], limits[r])
            for q in quantiles[r]:
                ax.axvline(q, color="purple", ls="--", lw=0.8)
            ax.set_title(titles[r], fontsize=11.7, pad=3.5)
            ax.set_yticks([])
        else:
            if (r, c) in blobs:
                draw_blob(ax, *blobs[(r, c)])
            else:
                xr, yr, w, extra = lattices[(r, c)]
                draw_lattice(ax, xr, yr, w, limits[c], limits[r], extra)
            if truths[r] is not None:
                ax.axhline(truths[r], color="k", alpha=0.68, lw=1.45)
            ax.set_ylim(limits[r])
            ax.set_yticks(ticks[r])
            ax.set_yticklabels([])
        if truths[c] is not None:
            ax.axvline(truths[c], color="k", alpha=0.68, lw=1.45)
        ax.set_xlim(limits[c])
        ax.set_xticks(ticks[c])
        ax.set_xticklabels([])
        ax.set_xlabel("")
        ax.set_ylabel("")
        ax.tick_params(length=2.6, width=0.8, color="#100010", pad=3)
        for s in ax.spines.values():
            s.set_linewidth(0.8)
            s.set_color("#100010")
        if r == 7:
            ax.set_xticklabels(["$" + t + "$" for t in tick_labels[c]], rotation=45, ha="center", fontsize=9.5)
            ax.set_xlabel(names[c], fontsize=11.5)
            ax.xaxis.set_label_coords(0.5, -0.29)
        if c == 0 and r > 0:
            ax.set_yticklabels(["$" + t + "$" for t in tick_labels[r]], rotation=45, fontsize=9.5)
            ax.set_ylabel(names[r], fontsize=11.5)
            ax.yaxis.set_label_coords(-0.30, 0.5)

fig.text(2005 / W, 1 - 101 / H, "Direct Imaging Retrieval of Clear-Sky Earth", ha="center", va="center",
         fontsize=21.5, color="#100010")
handles = [Patch(color="#886a88"), Line2D([0], [0], color="#100010", lw=2.4)]
labels = [r"SMARTER Posteriors ($\mathcal{M}_{iso}$)", r"Truth (from $\Delta$ Effective Transit Height)"]
fig.legend(handles, labels, loc="upper left", bbox_to_anchor=(1496 / W, 1 - 168 / H), frameon=False,
           fontsize=12.4, borderaxespad=0, borderpad=0, handlelength=2.22, handleheight=0.9, labelspacing=0.58)

fig.savefig("out.png", dpi=300)
